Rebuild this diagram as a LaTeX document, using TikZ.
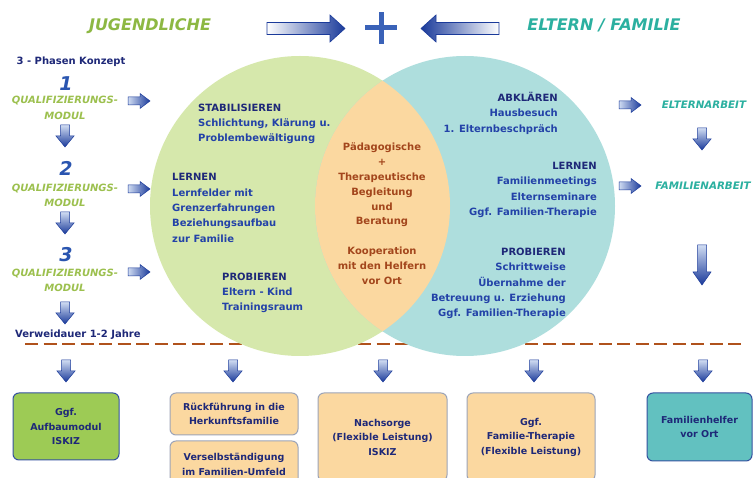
\documentclass[tikz,border=0pt]{standalone}
\usepackage{fontspec}
\setmainfont{DejaVu Sans}
\definecolor{cgreen}{HTML}{D6E8AC}
\definecolor{cteal}{HTML}{AEDEDD}
\definecolor{corange}{HTML}{FBD8A0}
\definecolor{tgreen}{HTML}{8DB843}
\definecolor{tgreenb}{HTML}{9CC04E}
\definecolor{tteal}{HTML}{2BB0A0}
\definecolor{navy}{HTML}{1E2878}
\definecolor{bblue}{HTML}{2342A8}
\definecolor{numblue}{HTML}{2A55B0}
\definecolor{brownt}{HTML}{A3461C}
\definecolor{dashc}{HTML}{B0521C}
\definecolor{adark}{HTML}{1A3A9A}
\definecolor{alight}{HTML}{D0DCF2}
\definecolor{boxgreen}{HTML}{9DCB55}
\definecolor{boxteal}{HTML}{62C1C0}
\definecolor{boxborder}{HTML}{3552A0}
\definecolor{oborder}{HTML}{9CA4B8}
\definecolor{pluscol}{HTML}{3A62B8}
\begin{document}
\begin{tikzpicture}[x=1pt,y=-1pt,
  txt/.style={inner sep=0pt, text=bblue, font=\fontsize{10}{15.3}\selectfont\bfseries},
  ctxt/.style={inner sep=0pt, text=brownt, align=center, font=\fontsize{10}{14.8}\selectfont\bfseries},
  small/.style={inner sep=0pt, text=navy, font=\fontsize{10}{12}\selectfont\bfseries},
  bigtitle/.style={inner sep=0pt, font=\fontsize{16}{18}\selectfont\bfseries\itshape},
  qual/.style={inner sep=0pt, text=tgreenb, align=center, font=\fontsize{10}{15.5}\selectfont\bfseries\itshape},
  rtitle/.style={inner sep=0pt, text=tteal, font=\fontsize{10.3}{12}\selectfont\bfseries\itshape},
  num/.style={inner sep=0pt, text=numblue, font=\fontsize{19}{20}\selectfont\bfseries\itshape},
  outbox/.style={draw=oborder, line width=1pt, fill=corange, rounded corners=6pt, inner sep=0pt,
    align=center, text=navy, font=\fontsize{9.5}{14.5}\selectfont\bfseries},
  rarr/.pic={\shade[left color=alight, right color=adark, draw=adark, line width=0.5pt]
    (-11,-4)--(1,-4)--(1,-7.5)--(11,0)--(1,7.5)--(1,4)--(-11,4)--cycle;},
  darr/.pic={\shade[top color=alight, bottom color=adark, draw=adark, line width=0.5pt]
    (-4.5,-11)--(4.5,-11)--(4.5,0)--(9,0)--(0,11)--(-9,0)--(-4.5,0)--cycle;},
  darrlong/.pic={\shade[top color=alight, bottom color=adark, draw=adark, line width=0.5pt]
    (-4.5,-20)--(4.5,-20)--(4.5,7)--(9,7)--(0,20)--(-9,7)--(-4.5,7)--cycle;},
  bigr/.pic={\shade[left color=white, right color=adark, draw=adark, line width=0.6pt]
    (-39,-6)--(24,-6)--(24,-13.5)--(39,0)--(24,13.5)--(24,6)--(-39,6)--cycle;},
  bigl/.pic={\shade[left color=adark, right color=white, draw=adark, line width=0.6pt]
    (39,-6)--(-24,-6)--(-24,-13.5)--(-39,0)--(-24,13.5)--(-24,6)--(39,6)--cycle;},
]
\clip (0,0) rectangle (753,478);
\fill[white] (0,0) rectangle (753,478);

% dashed separator (behind circles)
\coordinate (dl) at (25,344);
\coordinate (dr) at (746,344);
\draw[dashc, line width=2.6pt, dash pattern=on 13pt off 5.5pt] (dl) -- (dr);

% circles
\node[circle, fill=cgreen, minimum size=300pt, inner sep=0pt] (jug) at (300,206) {};
\node[circle, fill=cteal, minimum size=300pt, inner sep=0pt] (elt) at (465,206) {};
\begin{scope}
  \clip (300,206) circle[radius=150];
  \fill[corange] (465,206) circle[radius=150];
\end{scope}

% header
\node[bigtitle, text=tgreen, anchor=base] (tj) at (150,31) {JUGENDLICHE};
\node[bigtitle, text=tteal, anchor=base] (te) at (604,31) {ELTERN / FAMILIE};
\pic (ar1) at (306,28.5) {bigr};
\pic (ar2) at (460,28.5) {bigl};
\fill[pluscol] (378.5,12) rectangle (383.5,44);
\fill[pluscol] (365,25.5) rectangle (397,30.5);

% left column
\node[small, anchor=base] (phk) at (71,64.5) {3 - Phasen Konzept};
\node[num, anchor=base] (n1) at (66,90.5) {1};
\node[qual, anchor=north] (q1) at (65,96) {QUALIFIZIERUNGS-\\MODUL};
\pic (ra1) at (139,101) {rarr};
\pic (da1) at (65,136) {darr};
\node[num, anchor=base] (n2) at (66,175.5) {2};
\node[qual, anchor=north] (q2) at (65,183.5) {QUALIFIZIERUNGS-\\MODUL};
\pic (ra2) at (139,189) {rarr};
\pic (da2) at (65,223) {darr};
\node[num, anchor=base] (n3) at (66,261.5) {3};
\node[qual, anchor=north] (q3) at (65,268.5) {QUALIFIZIERUNGS-\\MODUL};
\pic (ra3) at (139,272) {rarr};
\pic (da3) at (65,313) {darr};
\node[small, anchor=base west] (vw) at (15,337.5) {Verweidauer 1-2 Jahre};

% left circle texts
\node[txt, align=left, anchor=north west] (stab) at (198,103.5)
  {\textcolor{navy}{STABILISIEREN}\\Schlichtung, Klärung u.\\Problembewältigung};
\node[txt, align=left, anchor=north west] (lern) at (172,173.5)
  {\textcolor{navy}{LERNEN}\\Lernfelder mit\\Grenzerfahrungen\\Beziehungsaufbau\\zur Familie};
\node[txt, align=left, anchor=north west] (prob) at (222,272.5)
  {\textcolor{navy}{PROBIEREN}\\Eltern - Kind\\Trainingsraum};

% center texts
\node[ctxt, anchor=north] (mid) at (382,143)
  {Pädagogische\\+\\Therapeutische\\Begleitung\\und\\Beratung\\[14.8pt]Kooperation\\mit den Helfern\\vor Ort};

% right circle texts
\node[txt, align=right, anchor=north east] (abk) at (558,92)
  {\textcolor{navy}{ABKLÄREN}\\Hausbesuch\\1. Elternbeschpräch};
\node[txt, align=right, anchor=north east] (lernr) at (597,162)
  {\textcolor{navy}{LERNEN}\\Familienmeetings\\Elternseminare\\Ggf. Familien-Therapie};
\node[txt, align=right, anchor=north east] (probr) at (566,248)
  {\textcolor{navy}{PROBIEREN}\\Schrittweise\\Übernahme der\\Betreuung u. Erziehung\\Ggf. Familien-Therapie};

% right column
\pic (rr1) at (630,105) {rarr};
\node[rtitle, anchor=base] (ea) at (704,108.5) {ELTERNARBEIT};
\pic (dr1) at (702,139) {darr};
\pic (rr2) at (630,186) {rarr};
\node[rtitle, anchor=base] (fa) at (703,189.5) {FAMILIENARBEIT};
\pic (dr2) at (702,265) {darrlong};

% bottom arrows
\pic (b1) at (66,371) {darr};
\pic (b2) at (233,371) {darr};
\pic (b3) at (383,371) {darr};
\pic (b4) at (534,371) {darr};
\pic (b5) at (703,371) {darr};

% bottom boxes
\node[outbox, fill=boxgreen, draw=boxborder, minimum width=106pt, minimum height=67pt] (o1) at (66,426.5)
  {Ggf.\\Aufbaumodul\\ISKIZ};
\node[outbox, minimum width=128pt, minimum height=42pt] (o2) at (234,414)
  {Rückführung in die\\Herkunftsfamilie};
\node[outbox, minimum width=128pt, minimum height=47pt] (o3) at (234,464.5)
  {Verselbständigung\\im Familien-Umfeld};
\node[outbox, minimum width=129pt, minimum height=88pt] (o4) at (382.5,437)
  {Nachsorge\\(Flexible Leistung)\\ISKIZ};
\node[outbox, minimum width=128pt, minimum height=88pt] (o5) at (531,437)
  {Ggf.\\Familie-Therapie\\(Flexible Leistung)};
\node[outbox, fill=boxteal, draw=boxborder, minimum width=105pt, minimum height=68pt] (o6) at (699.5,427)
  {Familienhelfer\\vor Ort};
\end{tikzpicture}
\end{document}
